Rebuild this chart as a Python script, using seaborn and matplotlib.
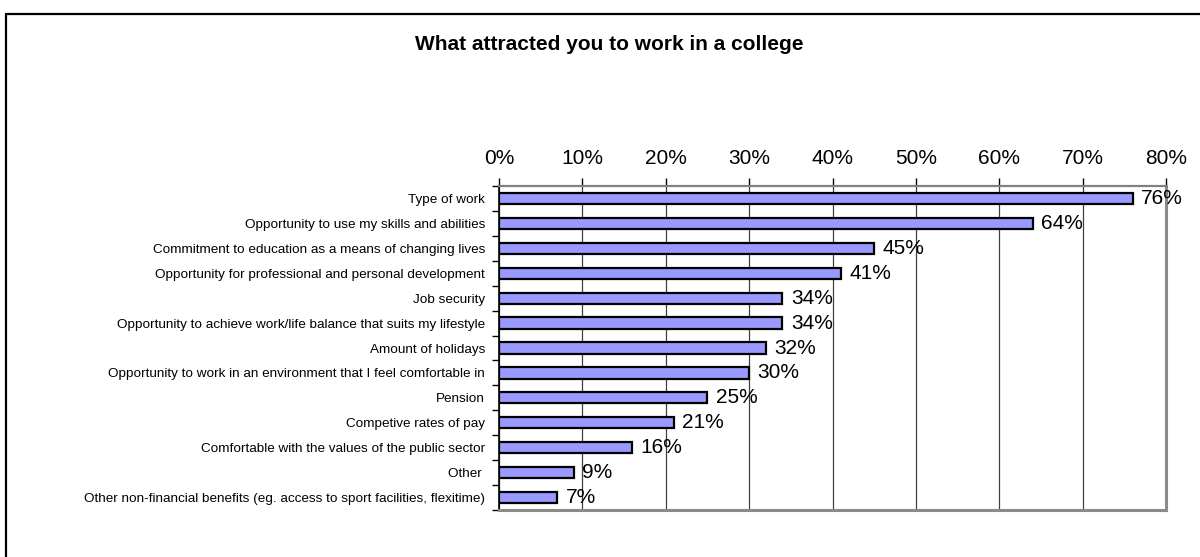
import matplotlib
matplotlib.use("Agg")
import matplotlib.pyplot as plt
from matplotlib.lines import Line2D
from matplotlib.ticker import FixedLocator
import seaborn as sns
import pandas as pd

# Survey responses: share of staff citing each reason
reasons = [
    "Type of work",
    "Opportunity to use my skills and abilities",
    "Commitment to education as a means of changing lives",
    "Opportunity for professional and personal development",
    "Job security",
    "Opportunity to achieve work/life balance that suits my lifestyle",
    "Amount of holidays",
    "Opportunity to work in an environment that I feel comfortable in",
    "Pension",
    "Competive rates of pay",
    "Comfortable with the values of the public sector",
    "Other ",
    "Other non-financial benefits (eg. access to sport facilities, flexitime)",
]
percent = [76, 64, 45, 41, 34, 34, 32, 30, 25, 21, 16, 9, 7]
x_ticks = [0, 10, 20, 30, 40, 50, 60, 70, 80]
x_tick_labels = ["0%", "10%", "20%", "30%", "40%", "50%", "60%", "70%", "80%"]
title = "What attracted you to work in a college"

df = pd.DataFrame({"reason": reasons, "percent": percent})

sns.set_theme(style="white")
plt.rcParams["font.family"] = ["Liberation Sans", "DejaVu Sans"]
plt.rcParams["text.color"] = "black"
plt.rcParams["xtick.color"] = "black"
plt.rcParams["ytick.color"] = "black"

fig = plt.figure(figsize=(12, 5.57), dpi=100)
ax = fig.add_axes([499 / 1200, 1 - 510 / 557, (1166 - 499) / 1200, (510 - 186) / 557])

sns.barplot(
    data=df, x="percent", y="reason", orient="h", ax=ax,
    color="#9999FF", saturation=1, width=0.45,
    edgecolor="black", linewidth=1.6,
)

ax.set_xlim(0, 80)
ax.set_ylim(len(reasons) - 0.5, -0.5)
ax.set_xlabel("")
ax.set_ylabel("")

# x axis on top
ax.xaxis.tick_top()
ax.set_xticks(x_ticks)
ax.set_xticklabels(x_tick_labels, fontsize=15, color="black")
ax.tick_params(axis="x", which="major", direction="out", length=6, width=1,
               color="black", pad=7, bottom=False, top=True)

# y labels without ticks; small ticks between categories
ax.set_yticks(range(len(reasons)))
ax.set_yticklabels(reasons, fontsize=9.7, color="black")
ax.tick_params(axis="y", which="major", length=0, pad=10, left=False)
ax.yaxis.set_minor_locator(FixedLocator([i - 0.5 for i in range(len(reasons) + 1)]))
ax.tick_params(axis="y", which="minor", direction="out", length=5, width=1,
               color="black", left=True)

ax.grid(axis="x", color="#404040", linewidth=0.9)
ax.set_axisbelow(True)

ax.spines["left"].set_color("black")
ax.spines["left"].set_linewidth(1.2)
ax.spines["top"].set_color("#808080")
ax.spines["top"].set_linewidth(1.6)
ax.spines["right"].set_color("#8a8a8a")
ax.spines["right"].set_linewidth(2.2)
ax.spines["bottom"].set_color("#8a8a8a")
ax.spines["bottom"].set_linewidth(2.2)

# value labels
for i, v in enumerate(percent):
    ax.annotate(f"{v}%", xy=(v, i), xytext=(6, 0), textcoords="offset points",
                ha="left", va="center", fontsize=15, color="black")

fig.text(609 / 1200, 1 - 44 / 557, title, ha="center", va="center",
         fontsize=15, fontweight="bold", color="black")

# chart frame (top and left edges)
fig.add_artist(Line2D([6 / 1200, 6 / 1200], [0, 1 - 14 / 557],
                      transform=fig.transFigure, color="black", linewidth=1.6))
fig.add_artist(Line2D([6 / 1200, 1], [1 - 14 / 557, 1 - 14 / 557],
                      transform=fig.transFigure, color="black", linewidth=1.6))

fig.savefig("out.png", dpi=100, facecolor="white")
